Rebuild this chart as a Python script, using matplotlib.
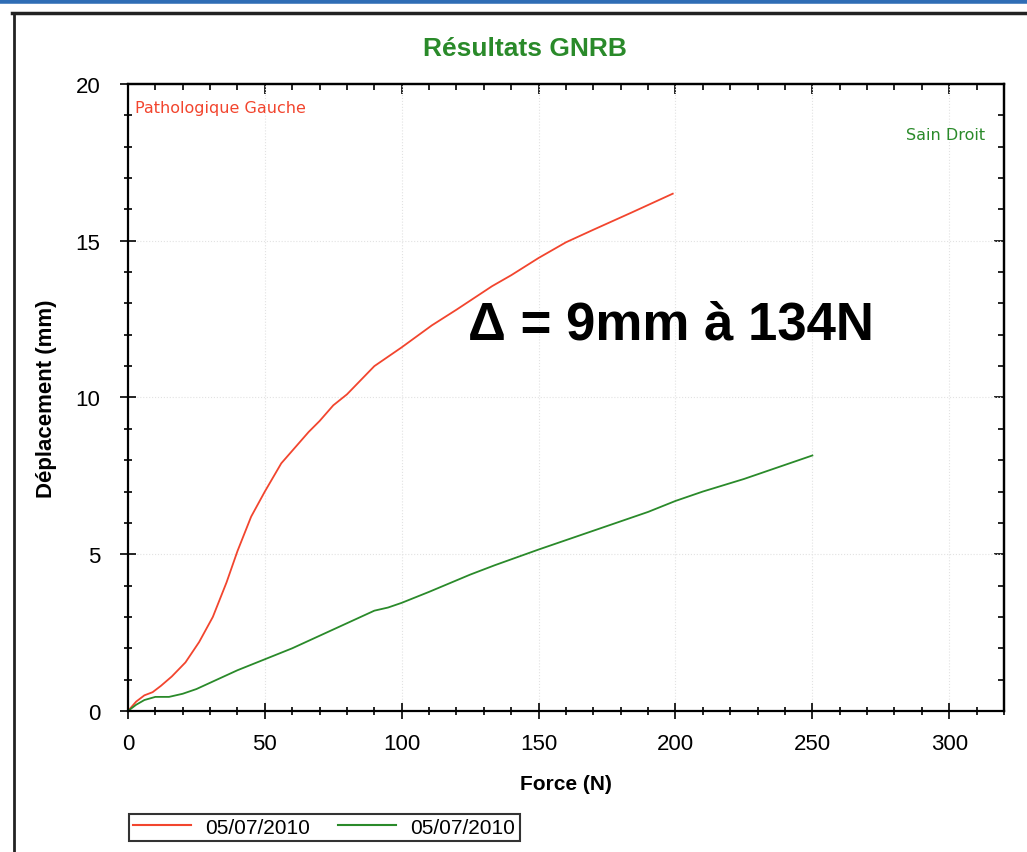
import matplotlib
matplotlib.use("Agg")
import matplotlib.pyplot as plt
from matplotlib.lines import Line2D
from matplotlib.ticker import MultipleLocator

plt.rcParams["font.family"] = ["Liberation Sans", "DejaVu Sans"]

# Pathologique Gauche (red)
force_gauche = [0, 3, 6, 9, 12, 16, 21, 26, 31, 36, 40, 45, 50, 56, 60, 66, 70, 75, 80,
                90, 100, 111, 120, 133, 140, 150, 160, 170, 184, 199]
depl_gauche = [0, 0.3, 0.5, 0.6, 0.8, 1.1, 1.55, 2.2, 3.0, 4.1, 5.1, 6.2, 7.0, 7.9, 8.3,
               8.9, 9.25, 9.75, 10.1, 11.0, 11.6, 12.3, 12.8, 13.55, 13.9, 14.45, 14.95,
               15.35, 15.9, 16.5]

# Sain Droit (green)
force_droit = [0, 3, 6, 10, 15, 20, 25, 30, 40, 50, 60, 70, 80, 90, 95, 100, 110, 125,
               134, 150, 165, 175, 190, 200, 210, 225, 240, 250]
depl_droit = [0, 0.2, 0.35, 0.45, 0.45, 0.55, 0.7, 0.9, 1.3, 1.65, 2.0, 2.4, 2.8, 3.2,
              3.3, 3.45, 3.8, 4.35, 4.65, 5.15, 5.6, 5.9, 6.35, 6.7, 7.0, 7.4, 7.85, 8.15]

legend_labels = ["05/07/2010", "05/07/2010"]
red = "#f2452e"
green = "#2a8a2a"

fig = plt.figure(figsize=(10.27, 8.53), dpi=100)
ax = fig.add_axes([0.1246, 0.1653, 0.8530, 0.7351])

ax.plot(force_gauche, depl_gauche, color=red, linewidth=1.3)
ax.plot(force_droit, depl_droit, color=green, linewidth=1.3)

ax.set_xlim(0, 320)
ax.set_ylim(0, 20)
ax.xaxis.set_major_locator(MultipleLocator(50))
ax.xaxis.set_minor_locator(MultipleLocator(10))
ax.yaxis.set_major_locator(MultipleLocator(5))
ax.yaxis.set_minor_locator(MultipleLocator(1))
ax.tick_params(which="both", direction="inout", labelsize=16, width=1.2, color="black")
ax.tick_params(which="major", length=12)
ax.tick_params(which="minor", length=6)
ax.tick_params(axis="x", pad=10)
ax.tick_params(axis="y", pad=14)
# top/right ticks point inward only
ax2 = ax.secondary_xaxis("top")
ax2.xaxis.set_major_locator(MultipleLocator(50))
ax2.xaxis.set_minor_locator(MultipleLocator(10))
ax2.tick_params(which="both", direction="in", labeltop=False, width=1.2)
ax2.tick_params(which="major", length=7)
ax2.tick_params(which="minor", length=4)
ay2 = ax.secondary_yaxis("right")
ay2.yaxis.set_major_locator(MultipleLocator(5))
ay2.yaxis.set_minor_locator(MultipleLocator(1))
ay2.tick_params(which="both", direction="in", labelright=False, width=1.2)
ay2.tick_params(which="major", length=7)
ay2.tick_params(which="minor", length=4)
for s in list(ax.spines.values()) + [ax2.spines["top"], ay2.spines["right"]]:
    s.set_linewidth(1.6)
ax.grid(True, which="major", color="#e2e2e2", linestyle=":", linewidth=0.8)

ax.set_xlabel("Force (N)", fontsize=15, fontweight="bold", labelpad=14)
ax.set_ylabel("Déplacement (mm)", fontsize=16, fontweight="bold", labelpad=13)
fig.text(0.511, 0.943, "Résultats GNRB", fontsize=19, fontweight="bold", color=green,
         ha="center", va="center")

ax.text(0.008, 0.975, "Pathologique Gauche", transform=ax.transAxes, color=red,
        fontsize=11.5, va="top", ha="left", family="DejaVu Sans")
ax.text(0.978, 0.92, "Sain Droit", transform=ax.transAxes, color=green,
        fontsize=11.5, va="center", ha="right", family="DejaVu Sans")
ax.text(0.388, 0.617, "Δ = 9mm à 134N", transform=ax.transAxes, color="black",
        fontsize=38, fontweight="bold", va="center", ha="left")

handles = [Line2D([], [], color=red, linewidth=1.5), Line2D([], [], color=green, linewidth=1.5)]
leg = fig.legend(handles, legend_labels, loc="center left", bbox_to_anchor=(0.115, 0.029),
                 ncol=2, frameon=True, fancybox=False, edgecolor="black", fontsize=15,
                 handlelength=2.8, handletextpad=0.7, columnspacing=1.3, borderpad=0.2)
leg.get_frame().set_linewidth(1.5)

# scan frame around the chart
fig.add_artist(Line2D([0.012, 1.0], [0.984, 0.984], color="#222222", linewidth=2.5,
                      transform=fig.transFigure))
fig.add_artist(Line2D([0.014, 0.014], [0.0, 0.984], color="#222222", linewidth=2,
                      transform=fig.transFigure))
fig.add_artist(Line2D([0.0, 1.0], [0.998, 0.998], color="#2f6db5", linewidth=4,
                      transform=fig.transFigure))

fig.savefig("out.png", dpi=100)
